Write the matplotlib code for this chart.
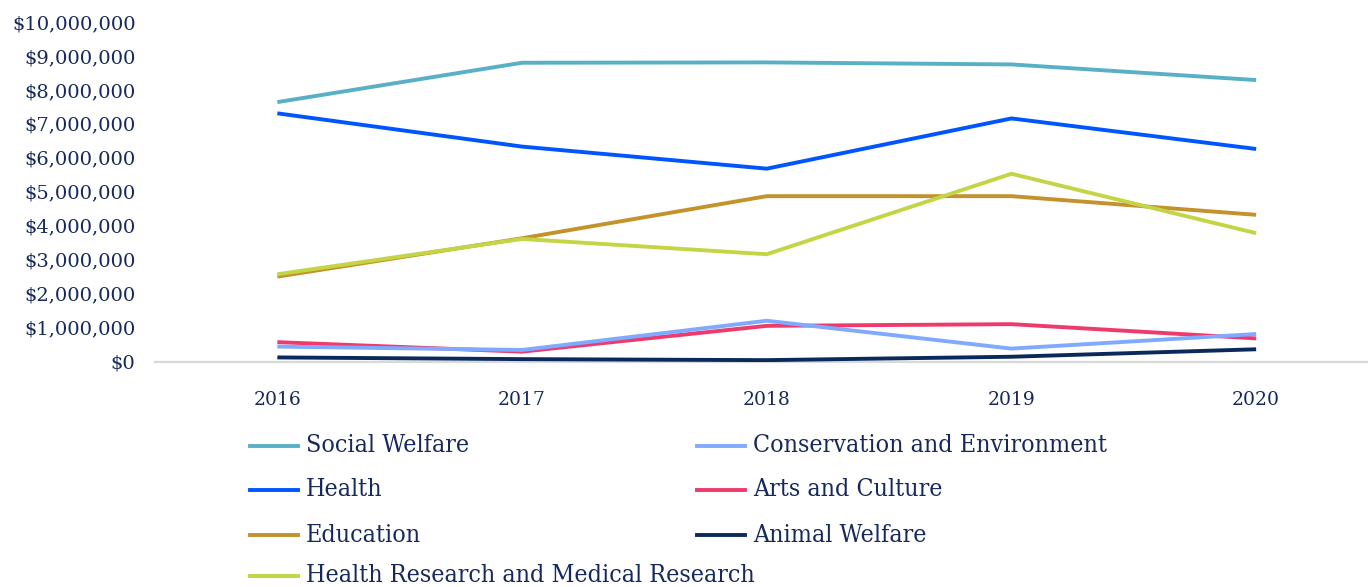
import matplotlib
matplotlib.use("Agg")
import matplotlib.pyplot as plt
from matplotlib.lines import Line2D
from matplotlib.ticker import FuncFormatter

years = ["2016", "2017", "2018", "2019", "2020"]

social_welfare = [7.64e6, 8.80e6, 8.81e6, 8.75e6, 8.29e6]
health = [7.31e6, 6.33e6, 5.68e6, 7.16e6, 6.26e6]
education = [2.50e6, 3.63e6, 4.87e6, 4.87e6, 4.32e6]
health_research = [2.57e6, 3.61e6, 3.16e6, 5.53e6, 3.78e6]
conservation = [0.44e6, 0.34e6, 1.20e6, 0.38e6, 0.81e6]
arts_culture = [0.57e6, 0.29e6, 1.05e6, 1.10e6, 0.68e6]
animal_welfare = [0.12e6, 0.07e6, 0.04e6, 0.14e6, 0.36e6]

series_names = [
    "Social Welfare", "Health", "Education",
    "Health Research and Medical Research",
    "Conservation and Environment", "Arts and Culture", "Animal Welfare",
]
series_values = [
    social_welfare, health, education, health_research,
    conservation, arts_culture, animal_welfare,
]
series_colors = [
    "#58B0C6", "#0055FF", "#C4922C", "#C3D545",
    "#7FAAFF", "#EF3A6C", "#0B2A5B",
]

TEXT = "#16295A"

W, H = 1368, 587
fig = plt.figure(figsize=(W / 100, H / 100), dpi=100)
left, right = 155 / W, 1378.5 / W
bottom, top = 1 - 361.5 / H, 1 - 22 / H
ax = fig.add_axes([left, bottom, right - left, top - bottom])

# Draw back-to-front so the small series sit on top
draw_order = [0, 1, 2, 3, 5, 4, 6]
x = list(range(len(years)))
for i in draw_order:
    ax.plot(x, series_values[i], color=series_colors[i], lw=2.8,
            solid_capstyle="butt", solid_joinstyle="miter", zorder=3)

ax.set_xlim(-0.5, len(years) - 0.5)
ax.set_ylim(0, 10e6)
ax.set_yticks([i * 1e6 for i in range(11)])
ax.yaxis.set_major_formatter(FuncFormatter(lambda v, p: f"${v:,.0f}"))
ax.set_xticks(x)
ax.set_xticklabels(years)

for s in ["top", "right", "left"]:
    ax.spines[s].set_visible(False)
ax.spines["bottom"].set_color("#D9D9D9")
ax.spines["bottom"].set_linewidth(1.6)
ax.spines["bottom"].set_zorder(1)
ax.tick_params(axis="both", length=0, colors=TEXT)
ax.tick_params(axis="y", pad=14, labelsize=14)
ax.tick_params(axis="x", pad=21, labelsize=13.5)
for lab in ax.get_yticklabels() + ax.get_xticklabels():
    lab.set_fontfamily("DejaVu Serif")
    lab.set_color(TEXT)

# Two-column legend beneath the plot
col_x = [250, 697]
row_y = [446, 490, 535, 576]
slots = [(0, 0), (0, 1), (0, 2), (0, 3), (1, 0), (1, 1), (1, 2)]
for (c, r), name, color in zip(slots, series_names, series_colors):
    x0 = col_x[c]
    y0 = 1 - row_y[r] / H
    fig.add_artist(Line2D([x0 / W, (x0 + 48) / W], [y0, y0], color=color,
                          lw=2.8, transform=fig.transFigure))
    fig.text((x0 + 56) / W, y0, name, ha="left", va="center",
             fontsize=17.9, color=TEXT, family="DejaVu Serif",
             fontstretch="condensed")

fig.savefig("out.png", dpi=100)
